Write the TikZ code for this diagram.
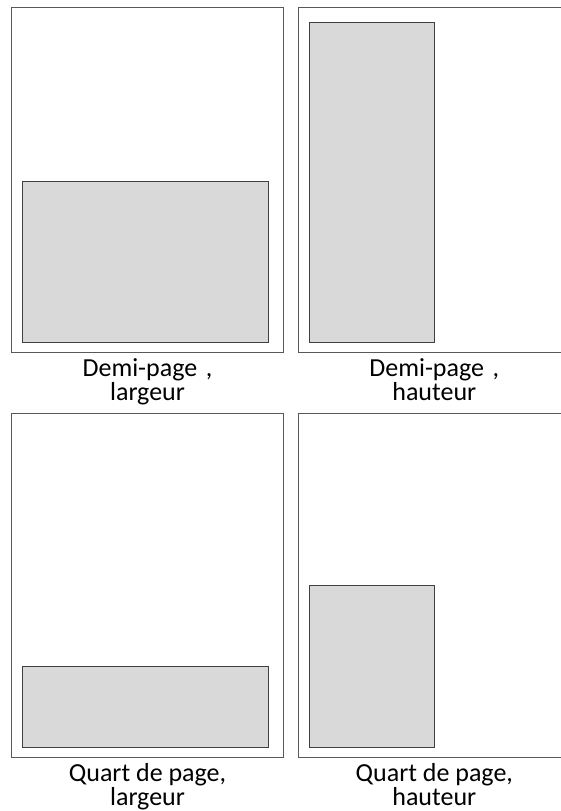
\documentclass[tikz,border=0pt]{standalone}
\usepackage{fontspec}
\setmainfont{Carlito}
\definecolor{pageline}{HTML}{595959}
\definecolor{boxline}{HTML}{404040}
\definecolor{boxfill}{HTML}{D9D9D9}
\begin{document}
\begin{tikzpicture}[x=1pt,y=-1pt,
  pagebox/.style={draw=pageline,line width=1pt,fill=white},
  fillbox/.style={draw=boxline,line width=1pt,fill=boxfill},
  lbl/.style={anchor=base,inner sep=0pt,font=\fontsize{26}{26}\selectfont,text=black}]
\useasboundingbox (0,0) rectangle (561,811);
\fill[white] (0,0) rectangle (561,811);
\clip (0,0) rectangle (561,811);
% top-left page
\draw[pagebox] (11.7,7.3) rectangle (283.3,352.3);
\draw[fillbox] (22.3,181) rectangle (268.3,342.3);
% top-right page
\draw[pagebox] (298.3,7.3) rectangle (570.3,352.3);
\draw[fillbox] (309.7,22.3) rectangle (434.7,342.3);
% bottom-left page
\draw[pagebox] (11.7,413) rectangle (283.3,757.7);
\draw[fillbox] (22.3,666.7) rectangle (268.3,747.3);
% bottom-right page
\draw[pagebox] (298.3,413) rectangle (570.3,757.7);
\draw[fillbox] (309.7,585.3) rectangle (434.7,747.3);
% labels
\node[lbl] (t1a) at (147.5,376) {Demi-page\,\,,};
\node[lbl] (t1b) at (147.5,400) {largeur};
\node[lbl] (t2a) at (434.3,376) {Demi-page\,\,,};
\node[lbl] (t2b) at (434.3,400) {hauteur};
\node[lbl] (t3a) at (147.5,781) {Quart de page,};
\node[lbl] (t3b) at (147.5,805) {largeur};
\node[lbl] (t4a) at (434.3,781) {Quart de page,};
\node[lbl] (t4b) at (434.3,805) {hauteur};
\end{tikzpicture}
\end{document}
